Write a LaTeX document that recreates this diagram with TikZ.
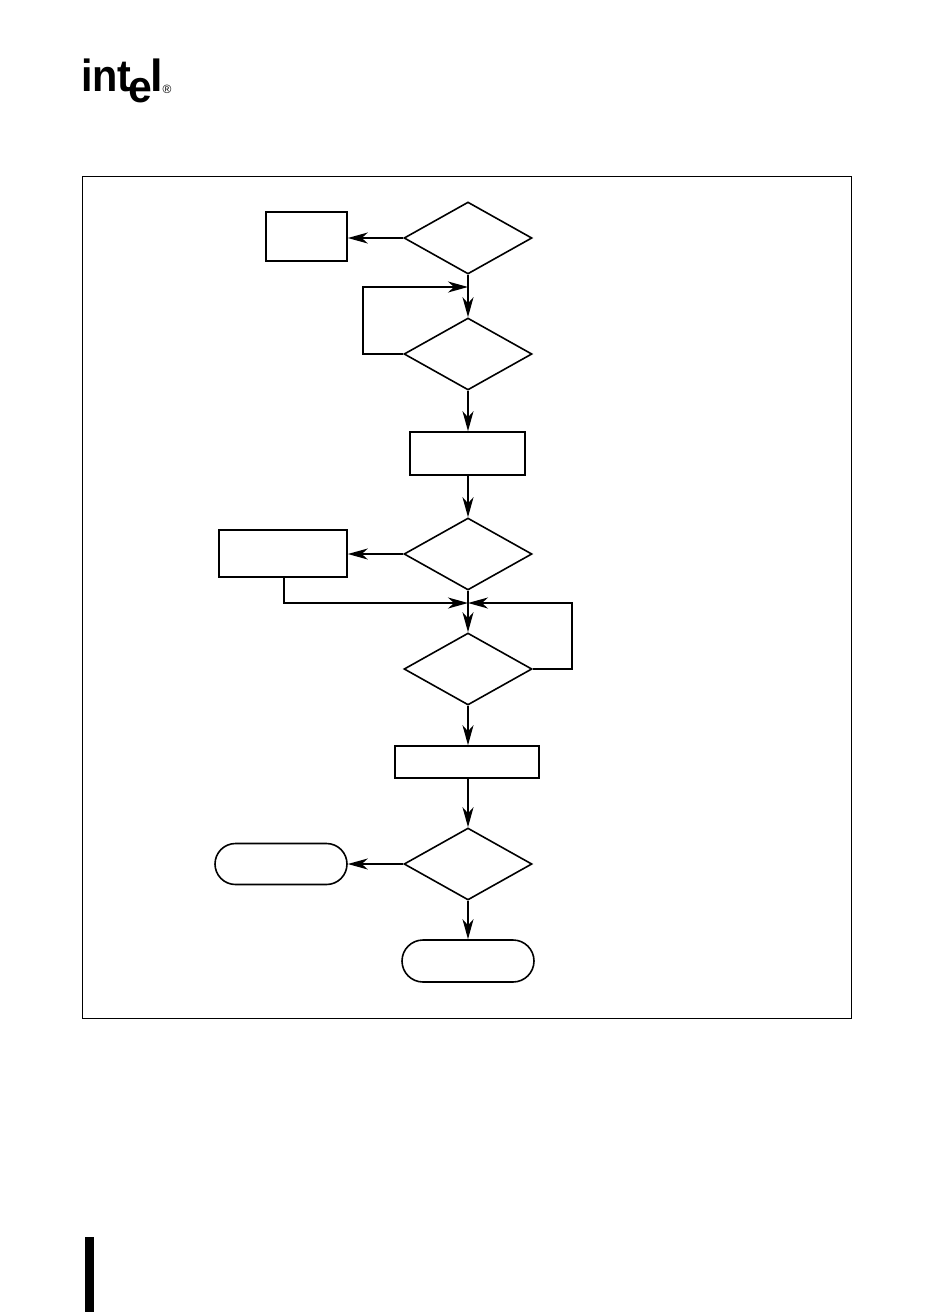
\documentclass[tikz,border=0pt]{standalone}
\usepackage{fontspec}
\setmainfont{Liberation Sans}
\usetikzlibrary{arrows.meta,shapes.geometric,shapes.misc}
\tikzset{
  ln/.style={line width=1.6pt,draw=black},
  flow/.style={ln,-{Stealth[length=20pt,width=11pt,inset=6pt]}},
  dec/.style={diamond,ln,inner sep=0pt,minimum width=128pt,minimum height=72pt},
  proc/.style={rectangle,ln,inner sep=0pt},
  term/.style={rounded rectangle,ln,inner sep=0pt,minimum width=132pt,minimum height=42pt},
  logo/.style={inner sep=0pt,anchor=base west,font=\bfseries\fontsize{45}{45}\selectfont}
}
\begin{document}
\begin{tikzpicture}[x=1pt,y=-1pt]
\useasboundingbox (0,0) rectangle (936,1312);
\fill[white] (0,0) rectangle (936,1312);
% frame and margin bar
\draw[line width=1pt] (82.5,176.5) rectangle (851.5,1018.5);
\fill[black] (85,1237) rectangle (94,1312);
% logo
\node[logo,xscale=.92] (lint) at (81,91) {int};
\node[logo,xscale=.95] (le) at (128,102) {e};
\node[logo] (ll) at (150,91) {l};
\node[inner sep=0pt,font=\fontsize{12}{12}\selectfont] (lr) at (167,89) {®};
% nodes
\node[dec] (d1) at (468,238) {};
\node[dec] (d2) at (468,354) {};
\node[dec] (d3) at (468,554) {};
\node[dec] (d4) at (468,669) {};
\node[dec] (d5) at (468,864) {};
\node[proc,minimum width=81pt,minimum height=49pt] (b1) at (306.5,236.5) {};
\node[proc,minimum width=115pt,minimum height=43pt] (b2) at (467.5,453.5) {};
\node[proc,minimum width=128pt,minimum height=47pt] (b3) at (283,553.5) {};
\node[proc,minimum width=144pt,minimum height=32pt] (b4) at (467,762) {};
\node[term,minimum height=41pt] (t1) at (281,864) {};
\node[term] (t2) at (468,961) {};
\coordinate (j1) at (468,287);
\coordinate (j2) at (468,603);
\coordinate (c1) at (363,354);
\coordinate (c2) at (363,287);
\coordinate (c3) at (284,603);
\coordinate (c4) at (572,669);
\coordinate (c5) at (572,603);
% connectors
\draw[flow] (d1.west) -- (b1.east |- d1.west);
\draw[flow] (d1.south) -- (d2.north);
\draw[flow] (d2.west) -- (c1) -- (c2) -- (j1);
\draw[flow] (d2.south) -- (b2.north -| d2.south);
\draw[flow] (b2.south -| d2.south) -- (d3.north);
\draw[flow] (d3.west) -- (b3.east |- d3.west);
\draw[flow] (b3.south -| c3) -- (c3) -- (j2);
\draw[flow] (d3.south) -- (d4.north);
\draw[flow] (d4.east) -- (c4) -- (c5) -- (j2);
\draw[flow] (d4.south) -- (b4.north -| d4.south);
\draw[flow] (b4.south -| d4.south) -- (d5.north);
\draw[flow] (d5.west) -- (t1.east);
\draw[flow] (d5.south) -- (t2.north);
\end{tikzpicture}
\end{document}
